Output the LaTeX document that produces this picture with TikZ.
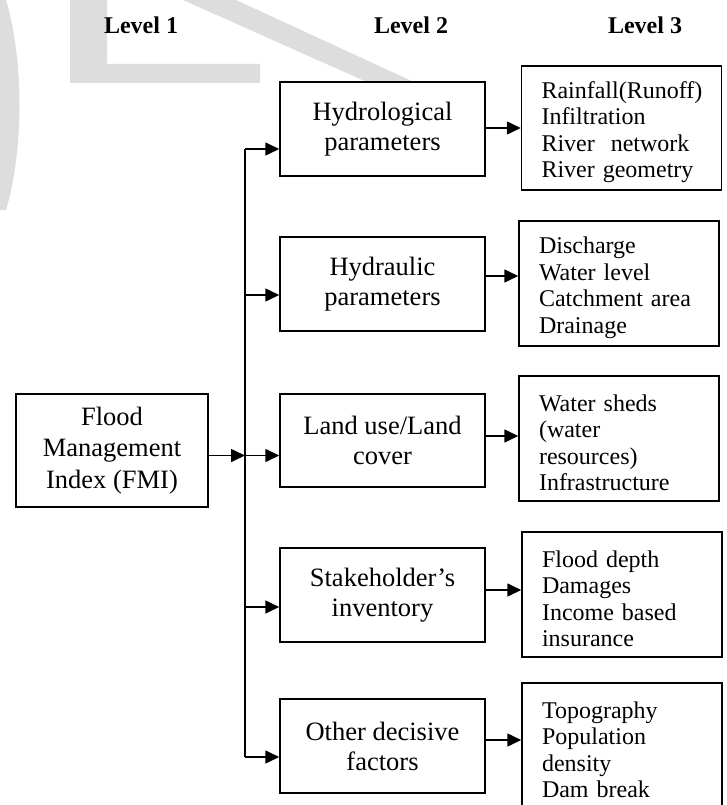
\documentclass[tikz,border=0pt]{standalone}
\usepackage{fontspec}
\setmainfont{Liberation Serif}
\usetikzlibrary{arrows.meta}
\definecolor{wmgray}{RGB}{221,221,221}
\begin{document}
\begin{tikzpicture}[x=1pt,y=-1pt,
  box/.style={draw, line width=1.5pt, inner sep=0pt},
  lvtwo/.style={box, minimum width=205pt, minimum height=94pt, align=center, font=\fontsize{26.5}{30}\selectfont},
  lvthree/.style={box, minimum width=200pt, minimum height=125pt, text width=160pt, align=left, font=\fontsize{24}{26.5}\selectfont, execute at begin node={\rule{0pt}{25pt}}},
  lvl/.style={font=\fontsize{24}{28}\selectfont\bfseries, anchor=base},
  arr/.style={line width=1.6pt, -{Triangle[length=14pt,width=13pt]}},
  wm/.style={fill=wmgray, draw=none}]
\useasboundingbox (0,0) rectangle (726,805);
\clip (0,0) rectangle (726,805);
\fill[white] (0,0) rectangle (726,805);
% watermark
\fill[wm] (0,0) -- (6,0) .. controls (24,60) and (24,150) .. (6,210) -- (0,210) -- cycle;
\fill[wm] (70,0) -- (107,0) -- (107,64) -- (260,64) -- (260,83) -- (70,83) -- cycle;
\fill[wm] (183,0) -- (236,0) -- (416,83) -- (369,83) -- cycle;
% level labels
\node[lvl] (l1) at (141,34) {Level 1};
\node[lvl] (l2) at (411,34) {Level 2};
\node[lvl] (l3) at (645,34) {Level 3};
% level 1
\node[box, minimum width=192pt, minimum height=113pt, align=center, font=\fontsize{26.5}{31.5}\selectfont] (fmi) at (112,450.5) {Flood\\Management\\Index (FMI)};
% level 2
\node[lvtwo] (hyd) at (382.5,129) {Hydrological\\parameters};
\node[lvtwo] (hydr) at (382.5,284) {Hydraulic\\parameters};
\node[lvtwo, minimum height=93pt] (land) at (382.5,440.5) {Land use/Land\\cover};
\node[lvtwo] (stake) at (382.5,595) {Stakeholder’s\\inventory};
\node[lvtwo] (other) at (382.5,746) {Other decisive\\factors};
% level 3
\node[lvthree, minimum height=124pt] (rain) at (621.5,128) {Rainfall(Runoff)\\Infiltration\\River~~network\\River geometry};
\node[lvthree] (dis) at (619,283.5) {Discharge\\Water level\\Catchment area\\Drainage};
\node[lvthree] (ws) at (619,438.5) {Water sheds\\(water\\resources)\\Infrastructure};
\node[lvthree] (flood) at (622,594.5) {Flood depth\\Damages\\Income based\\insurance};
\node[lvthree] (topo) at (622,745.5) {Topography\\Population\\density\\Dam break};
% trunk
\coordinate (t1) at (245,149);
\coordinate (t2) at (245,295);
\coordinate (t3) at (245,455.5);
\coordinate (t4) at (245,607);
\coordinate (t5) at (245,757);
\draw[line width=1.6pt] (t1) -- (t5);
\draw[arr] (fmi.east |- t3) -- (t3);
\draw[arr] (t1) -- (t1 -| hyd.west);
\draw[arr] (t2) -- (t2 -| hydr.west);
\draw[arr] (t3) -- (t3 -| land.west);
\draw[arr] (t4) -- (t4 -| stake.west);
\draw[arr] (t5) -- (t5 -| other.west);
% level 2 -> level 3
\coordinate (o1) at ([yshift=1pt]hyd.east);
\coordinate (o2) at ([yshift=8pt]hydr.east);
\coordinate (o3) at ([yshift=4.5pt]land.east);
\coordinate (o4) at ([yshift=5pt]stake.east);
\coordinate (o5) at ([yshift=6pt]other.east);
\draw[arr] (o1) -- (o1 -| rain.west);
\draw[arr] (o2) -- (o2 -| dis.west);
\draw[arr] (o3) -- (o3 -| ws.west);
\draw[arr] (o4) -- (o4 -| flood.west);
\draw[arr] (o5) -- (o5 -| topo.west);
\end{tikzpicture}
\end{document}
